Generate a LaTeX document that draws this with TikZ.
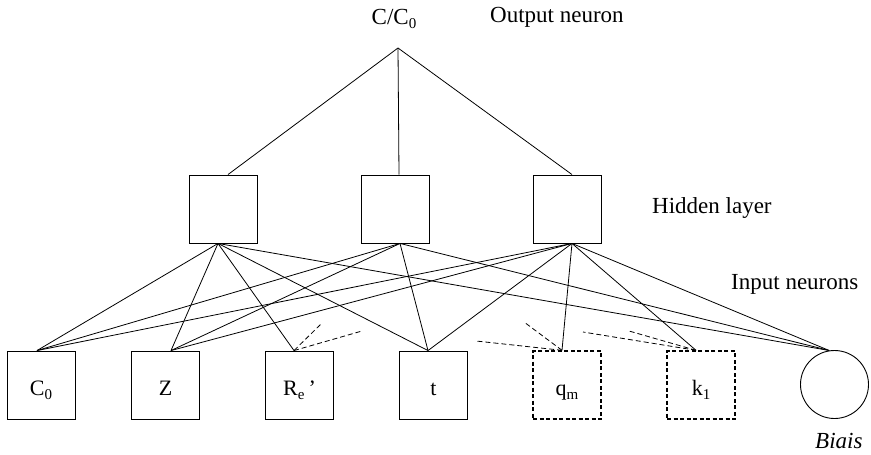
\documentclass[tikz,border=0pt]{standalone}
\usepackage{fontspec}
\setmainfont{Liberation Serif}
% small lowered index used in the unit names
\newcommand\lowsub[1]{\raisebox{-4pt}{\fontsize{15}{15}\selectfont #1}}
\tikzset{
  hiddenunit/.style={draw, line width=0.9pt, minimum size=68pt, inner sep=0pt},
  inputunit/.style={draw, line width=0.9pt, minimum size=68pt, inner sep=0pt,
    font=\fontsize{22}{22}\selectfont, text height=21pt, text depth=0pt},
  optunit/.style={inputunit, line width=1.4pt, dash pattern=on 4pt off 2.5pt},
  biasunit/.style={draw, circle, line width=0.9pt, minimum size=68pt, inner sep=0pt},
  wire/.style={line width=0.8pt},
  hint/.style={line width=0.8pt, dash pattern=on 5pt off 3pt},
  caption/.style={font=\fontsize{23}{23}\selectfont, inner sep=0pt, anchor=base west}
}
\begin{document}
\begin{tikzpicture}[x=1pt, y=-1pt]
\path[use as bounding box] (0,0) rectangle (871,455);

% captions
\node[caption, anchor=base] (outname) at (394,24) {C/C\lowsub{0}};
\node[caption] (outlbl) at (490,23) {Output neuron};
\node[caption] (hidlbl) at (652,213) {Hidden layer};
\node[caption] (inlbl) at (731,289) {Input neurons};
\node[caption, font=\fontsize{23}{23}\selectfont\itshape] (biaslbl) at (815,448) {Biais};

% hidden layer
\node[hiddenunit] (h1) at (223,209) {};
\node[hiddenunit] (h2) at (395,209) {};
\node[hiddenunit] (h3) at (567,209) {};

% input layer
\node[inputunit] (c0) at (41,385) {C\lowsub{0}};
\node[inputunit] (z)  at (165.5,385) {Z};
\node[inputunit] (re) at (299.5,385) {R\lowsub{e}\hspace{4pt}’};
\node[inputunit] (t)  at (433.5,385) {t};
\node[optunit]   (qm) at (567,385) {q\lowsub{m}};
\node[optunit]   (k1) at (701,385) {k\lowsub{1}};
\node[biasunit]  (bias) at (834.5,384.5) {};

% connection points
\coordinate (apex) at (398,48);
\coordinate (h1t) at ([xshift=5pt]h1.north);
\coordinate (h2t) at ([xshift=4pt]h2.north);
\coordinate (h3t) at ([xshift=5pt]h3.north);
\coordinate (h1b) at ([xshift=-5pt]h1.south);
\coordinate (h2b) at ([xshift=5pt]h2.south);
\coordinate (h3b) at ([xshift=5pt]h3.south);
\coordinate (c0t) at ([xshift=-4pt]c0.north);
\coordinate (zt)  at ([xshift=5.5pt]z.north);
\coordinate (ret) at ([xshift=-5.5pt]re.north);
\coordinate (tt)  at ([xshift=-5.5pt]t.north);
\coordinate (qmt) at ([xshift=-5pt]qm.north);
\coordinate (k1t) at ([xshift=-5pt]k1.north);
\coordinate (biast) at (bias.99);

% output to hidden
\foreach \h in {h1t,h2t,h3t} \draw[wire] (apex) -- (\h);

% hidden to inputs
\foreach \i in {c0t,zt,ret,tt,biast} \draw[wire] (h1b) -- (\i);
\foreach \i in {c0t,zt,tt,biast} \draw[wire] (h2b) -- (\i);
\foreach \i in {c0t,zt,tt,qmt,k1t,biast} \draw[wire] (h3b) -- (\i);

% partial links of the optional inputs
\coordinate (re1) at (322,323);
\coordinate (re2) at (362,331);
\coordinate (qm1) at (524,322);
\coordinate (qm2) at (476,341);
\coordinate (k11) at (583,332);
\coordinate (k12) at (629,331);
\draw[hint] (ret) -- (re1);
\draw[hint] (ret) -- (re2);
\draw[hint] (qmt) -- (qm1);
\draw[hint] (qmt) -- (qm2);
\draw[hint] (k1t) -- (k11);
\draw[hint] (k1t) -- (k12);
\end{tikzpicture}
\end{document}
